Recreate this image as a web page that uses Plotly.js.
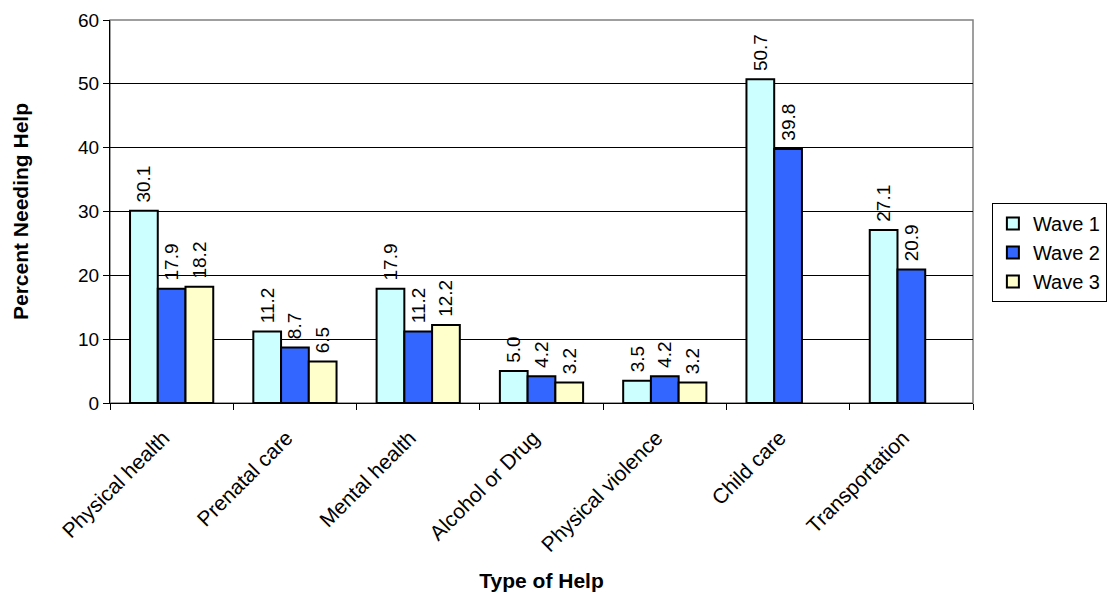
<!DOCTYPE html>
<html>
<head>
<meta charset="utf-8">
<script src="https://cdn.plot.ly/plotly-3.0.1.min.js"></script>
<style>html,body{margin:0;padding:0;background:#fff;}#chart{width:1108px;height:595px;}</style>
</head>
<body>
<div id="chart"></div>
<script>
// Share of respondents needing each type of help, by survey wave
const categories = ['Physical health', 'Prenatal care', 'Mental health', 'Alcohol or Drug',
                    'Physical violence', 'Child care', 'Transportation'];
const wave1 = [30.1, 11.2, 17.9, 5.0, 3.5, 50.7, 27.1];
const wave2 = [17.9, 8.7, 11.2, 4.2, 4.2, 39.8, 20.9];
const wave3 = [18.2, 6.5, 12.2, 3.2, 3.2, null, null];
const seriesNames = ['Wave 1', 'Wave 2', 'Wave 3'];
const yTicks = [0, 10, 20, 30, 40, 50, 60];

const fills = ['#CCFFFF', '#3366FF', '#FFFFCC'];
const family = 'Arial, Liberation Sans, sans-serif';

function barTrace(name, values, fill) {
  return {
    type: 'bar',
    name: name,
    x: categories,
    y: values,
    // a non-breaking space keeps the value a little clear of the bar top
    text: values.map(v => v == null ? '' : '\u00a0' + v.toFixed(1)),
    textposition: 'outside',
    textangle: -90,
    constraintext: 'none',
    cliponaxis: false,
    textfont: {family: family, size: 19, color: '#000'},
    marker: {color: fill, line: {color: '#000', width: 2}},
    hoverinfo: 'x+y'
  };
}

const data = [
  barTrace(seriesNames[0], wave1, fills[0]),
  barTrace(seriesNames[1], wave2, fills[1]),
  barTrace(seriesNames[2], wave3, fills[2])
];

const layout = {
  width: 1108,
  height: 595,
  margin: {l: 110, r: 135, t: 20, b: 192, autoexpand: false},
  paper_bgcolor: '#fff',
  plot_bgcolor: '#fff',
  font: {family: family, color: '#000'},
  barmode: 'group',
  bargap: 0.325,
  bargroupgap: 0,
  showlegend: true,
  legend: {
    xref: 'container', yref: 'container',
    x: 0.999, y: 0.659, xanchor: 'right', yanchor: 'top',
    bordercolor: '#000', borderwidth: 1, bgcolor: '#fff',
    font: {family: family, size: 20, color: '#000'},
    itemwidth: 30
  },
  xaxis: {
    type: 'category',
    automargin: false,
    tickangle: -45,
    tickfont: {family: family, size: 21, color: '#000'},
    // trailing spaces pull the slanted labels slightly left of each tick
    tickvals: categories,
    ticktext: categories.map(c => c + '\u00a0\u00a0'),
    ticklabelstandoff: 5,
    showline: true, linecolor: '#000', linewidth: 1,
    ticks: 'outside', ticklen: 6, tickcolor: '#000', tickson: 'boundaries',
    showgrid: false,
    title: {text: 'Type of Help', font: {family: family, size: 21, color: '#000', weight: 'bold'}, standoff: 18}
  },
  yaxis: {
    range: [0, 60],
    automargin: false,
    tickvals: yTicks,
    ticktext: yTicks.map(String),
    tickfont: {family: family, size: 19, color: '#000'},
    showline: true, linecolor: '#000', linewidth: 1,
    ticks: 'outside', ticklen: 6, tickcolor: '#000',
    showgrid: true, gridcolor: '#000', gridwidth: 1,
    zeroline: false,
    title: {text: 'Percent Needing Help', font: {family: family, size: 21, color: '#000', weight: 'bold'}, standoff: 43}
  },
  shapes: [{
    type: 'rect', xref: 'paper', yref: 'paper', x0: 0, x1: 1, y0: 0, y1: 1,
    line: {color: '#808080', width: 1.5}, layer: 'below'
  }]
};

Plotly.newPlot('chart', data, layout, {displayModeBar: false, staticPlot: true});
</script>
</body>
</html>
